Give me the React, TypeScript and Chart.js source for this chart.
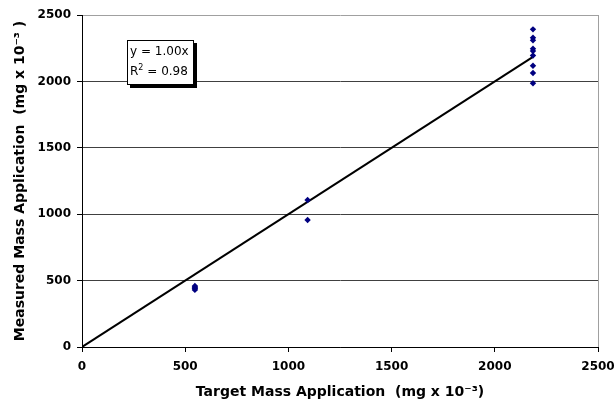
import { useEffect, useRef } from "react";
import { Chart, registerables } from "chart.js";

Chart.register(...registerables);

// Target dose levels (x) and the measured masses recovered at each level (y)
const targetLevels = [547, 1093, 2185];
const measuredLow = [430, 438, 445, 452, 460];
const measuredMid = [1107, 956];
const measuredHigh = [2392, 2329, 2309, 2246, 2229, 2195, 2118, 2063, 1986];

// Axis tick values (shared by both axes)
const axisTicks = [0, 500, 1000, 1500, 2000, 2500];

// Linear fit through the origin
const fitSlope = 1.0;
const fitRSquared = 0.98;

const FONT = "'DejaVu Sans', 'Liberation Sans', Arial, sans-serif";

export default function App() {
  const canvasRef = useRef<HTMLCanvasElement | null>(null);

  useEffect(() => {
    const canvas = canvasRef.current;
    if (!canvas) return;

    const points = [
      ...measuredLow.map((y) => ({ x: targetLevels[0], y })),
      ...measuredMid.map((y) => ({ x: targetLevels[1], y })),
      ...measuredHigh.map((y) => ({ x: targetLevels[2], y })),
    ];
    const xMax = Math.max(...targetLevels);
    const fitLine = [
      { x: 0, y: 0 },
      { x: xMax, y: fitSlope * xMax },
    ];

    const tickFont = { family: FONT, size: 12, weight: "bold" as const };
    const titleFont = { family: FONT, size: 14, weight: "bold" as const };
    const plainLabel = (v: any) => String(v);

    const chart = new Chart(canvas, {
      type: "scatter",
      data: {
        datasets: [
          {
            label: "Measured",
            data: points,
            pointStyle: "rectRot",
            pointRadius: 3.2,
            backgroundColor: "#000080",
            borderColor: "#000080",
            borderWidth: 0,
          },
          {
            label: "Linear fit",
            type: "line",
            data: fitLine,
            showLine: true,
            borderColor: "#000000",
            borderWidth: 2,
            pointRadius: 0,
            fill: false,
          },
        ],
      },
      options: {
        animation: false,
        responsive: false,
        events: [],
        layout: { padding: { left: 0, top: 15, right: 17, bottom: 0 } },
        plugins: {
          legend: { display: false },
          tooltip: { enabled: false },
        },
        scales: {
          x: {
            type: "linear",
            min: 0,
            max: 2500,
            afterBuildTicks: (s: any) => {
              s.ticks = axisTicks.map((v) => ({ value: v }));
            },
            afterFit: (s: any) => {
              s.height = 61;
              s.paddingLeft = 0;
              s.paddingRight = 0;
            },
            border: { display: true, color: "#000000", width: 1 },
            grid: {
              drawTicks: true,
              tickLength: 5,
              tickColor: "#000000",
              color: (ctx: any) =>
                ctx.tick && ctx.tick.value === 2500 ? "#a0a0a0" : "rgba(0,0,0,0)",
            },
            ticks: {
              font: tickFont,
              color: "#000000",
              padding: 8,
              maxRotation: 0,
              autoSkip: false,
              callback: plainLabel,
            },
            title: {
              display: true,
              text: "Target Mass Application  (mg x 10\u207B\u00B3)",
              font: titleFont,
              color: "#000000",
              padding: { top: 0, bottom: 7 },
            },
          },
          y: {
            type: "linear",
            min: 0,
            max: 2500,
            afterBuildTicks: (s: any) => {
              s.ticks = axisTicks.map((v) => ({ value: v }));
            },
            afterFit: (s: any) => {
              s.width = 82;
              s.paddingTop = 0;
              s.paddingBottom = 0;
            },
            border: { display: true, color: "#000000", width: 1 },
            grid: {
              drawTicks: true,
              tickLength: 5,
              tickColor: "#000000",
              color: (ctx: any) =>
                ctx.tick && ctx.tick.value === 2500 ? "#a0a0a0" : "#404040",
            },
            ticks: {
              font: tickFont,
              color: "#000000",
              padding: 6,
              autoSkip: false,
              callback: plainLabel,
            },
            title: {
              display: true,
              text: "Measured Mass Application  (mg x 10\u207B\u00B3 )",
              font: titleFont,
              color: "#000000",
              padding: { top: 12, bottom: 0 },
            },
          },
        },
      },
    });

    return () => chart.destroy();
  }, []);

  return (
    <div
      style={{
        position: "absolute",
        left: 0,
        top: 0,
        width: 615,
        height: 408,
        background: "#ffffff",
      }}
    >
      <canvas ref={canvasRef} width={615} height={408} style={{ display: "block" }} />
      <div
        style={{
          position: "absolute",
          left: 127,
          top: 40,
          width: 62,
          height: 41,
          border: "1px solid #000",
          background: "#fff",
          boxShadow: "3px 3px 0 #000",
          padding: "0 1px 2px 2px",
          fontFamily: FONT,
          fontSize: 12,
          lineHeight: "20px",
          color: "#000",
          whiteSpace: "nowrap",
          boxSizing: "content-box",
        }}
      >
        <div>y = {fitSlope.toFixed(2)}x</div>
        <div>
          R<sup style={{ fontSize: 8, lineHeight: 0, verticalAlign: "5px" }}>2</sup> ={" "}
          {fitRSquared.toFixed(2)}
        </div>
      </div>
    </div>
  );
}
